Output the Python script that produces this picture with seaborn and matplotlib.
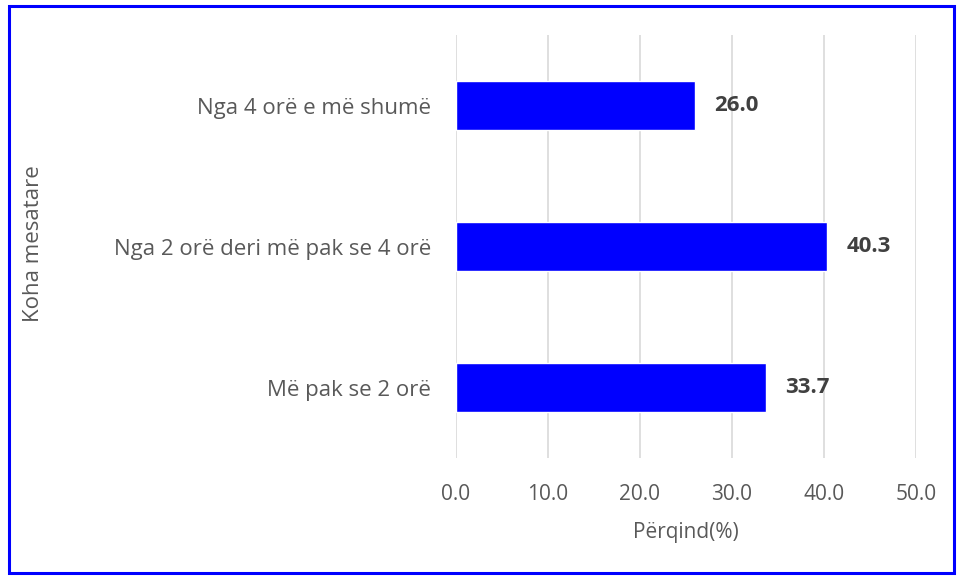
import pandas as pd
import numpy as np
import matplotlib.pyplot as plt
import seaborn as sns

categories = ["Nga 4 orë e më shumë", "Nga 2 orë deri më pak se 4 orë", "Më pak se 2 orë"]
values = [26.0, 40.3, 33.7]

df = pd.DataFrame({"koha": categories, "perqind": values})

sns.set_style("white")
plt.rcParams['font.family'] = ['Open Sans', 'DejaVu Sans']

fig = plt.figure(figsize=(9.63, 5.78), dpi=100)
ax = fig.add_axes([0.4735, 0.2076, 0.4777, 0.7318])

sns.barplot(data=df, x="perqind", y="koha", color="#0000FF", saturation=1,
            width=0.353, ax=ax)

ax.set_xlim(0, 50)
ax.set_ylim(2.5, -0.5)
ax.set_xticks(np.arange(0, 51, 10))
ax.set_xticklabels([f"{v:.1f}" for v in np.arange(0, 51, 10)])
ax.xaxis.grid(True, color="#D9D9D9", linewidth=1.2)
ax.set_axisbelow(True)
for s in ax.spines.values():
    s.set_visible(False)
ax.tick_params(axis="x", length=0, labelsize=15, colors="#595959", pad=19)
ax.tick_params(axis="y", length=0, labelsize=16, colors="#595959", pad=18)

ax.set_xlabel("Përqind(%)", fontsize=15, color="#595959", va="center")
ax.xaxis.set_label_coords(0.5, -0.177)
ax.set_ylabel("")
fig.text(0.035, 0.578, "Koha mesatare", rotation=90, fontsize=16,
         color="#595959", ha="center", va="center")

for cont in ax.containers:
    ax.bar_label(cont, fmt="%.1f", padding=14, fontsize=16,
                 fontweight="bold", color="#404040")

border = plt.Rectangle((0.009, 0.009), 0.982, 0.981, transform=fig.transFigure,
                       fill=False, edgecolor="#0000FF", linewidth=2.2)
fig.patches.append(border)

plt.savefig("out.png", dpi=100)
